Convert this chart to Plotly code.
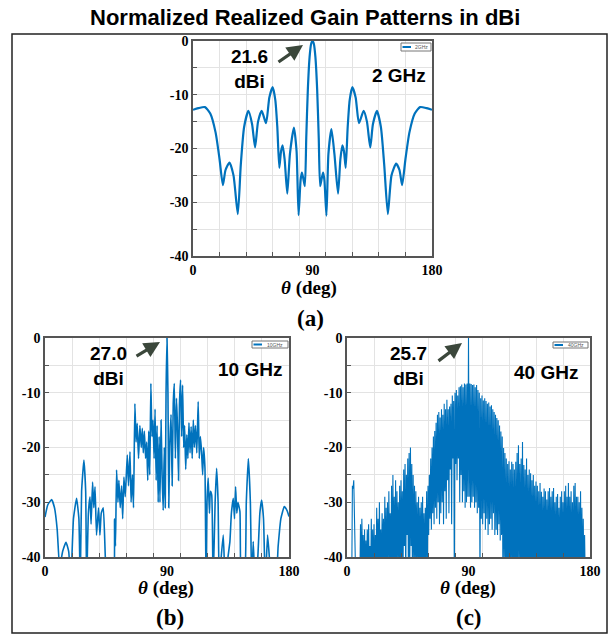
import plotly.graph_objects as go

BLUE = '#0072BD'

# ---------------- 2 GHz pattern (theta deg, normalized gain dB) ----------------
theta_2 = [0, 4, 9, 13, 17, 20, 22.5, 24.5, 27.5, 30.5, 33.75, 36, 38.5, 41.75, 44.5,
           46.75, 49, 51.75, 55, 57.5, 60, 62, 63.5, 65, 66.3, 67.5, 69, 71, 73, 76,
           78, 79.5, 81, 82, 83, 84.25, 85.3, 86.5, 87.8, 89, 90, 91, 92.2, 93.5, 94.7,
           95.75, 97, 98, 99, 100.5, 102, 104.25, 106.5, 109.25, 111, 112.5, 113.7, 115,
           116.5, 118, 120, 122.5, 125, 128.5, 131, 133.5, 135.5, 138.5, 141.5, 144,
           146.75, 149.5, 153, 155.5, 157.5, 160, 163, 167, 171, 176, 180]
gain_2 = [-12.8, -12.5, -12.3, -13.5, -17, -22, -26.8, -24, -22.6, -25, -32.2, -23, -16, -13.0, -15.5,
          -19.8, -15, -13.0, -15.3, -10.5, -8.6, -11, -16, -23.6, -20.5, -19.4, -22, -28.4, -21, -16.1,
          -20.5, -32.4, -26, -24.5, -25.5, -27, -18, -9, -3, -0.5, 0, -0.5, -3, -9, -18,
          -27, -25.5, -24.5, -26, -32.5, -21, -16.4, -21, -28.4, -22, -19.4, -20.5, -23.6,
          -16, -11, -8.6, -10.5, -15.3, -13, -15, -19.8, -15.5, -13, -16, -23,
          -32.2, -25, -22.8, -24, -26.8, -22, -17, -13.5, -12.3, -12.5, -12.8]

# ---------------- 10 GHz pattern ----------------
theta_10 = [0, 2, 4.9, 7, 9, 10.8, 13, 15.5, 17.5, 19, 21, 23.3, 25, 26, 27, 28.7, 30, 30.7,
            32, 33.2, 34, 35.1, 36, 36.9, 38, 39.5, 40.5, 41.5, 43, 44.5, 46, 48, 50.5, 51.3,
            52, 52.8, 53.8, 54.5, 55.5, 56.5, 57.3, 58.2, 59.2, 60.7, 61.6, 62.7, 63.5, 64.5,
            65.3, 66.3, 67.2, 68, 69, 70, 71, 71.8, 72.5, 73.3, 74.2, 75, 75.8, 76.5, 77.3,
            78.1, 78.9, 79.7, 80.5, 81.2, 82, 82.7, 83.5, 84.2, 84.8, 85.6, 86.4, 87.2, 88,
            88.7, 89.3, 90, 90.7, 91.3, 92, 93, 93.8, 94.6, 95.4, 96.2, 97, 97.7, 98.5, 99.2,
            100, 100.8, 101.5, 102.3, 103, 103.8, 104.6, 105.4, 106.2, 107, 107.8, 108.6,
            109.4, 110.2, 111, 112, 113, 113.8, 114.6, 115.5, 116.3, 117, 118, 118.8, 119.5,
            120.4, 121.3, 122, 123, 124, 125.5, 126.6, 127.7, 128.5, 130, 131.5, 133, 135,
            136.4, 137.5, 138.9, 139.8, 140.6, 141.5, 142.3, 143.8, 145, 147, 148.5, 150,
            151.5, 152.5, 153.6, 155, 157, 158.5, 159.8, 161.2, 162.5, 164.2, 165.5, 166.6,
            170, 172, 174, 176.5, 178.5, 180]
gain_10 = [-32.7, -30.5, -29.5, -31, -35, -42, -39, -37.3, -39, -45, -33, -29.3, -33, -45, -28, -22.3, -28, -45,
           -32, -29, -34, -26.3, -31, -27.2, -36, -31, -36, -32, -31, -40, -45, -45, -45, -33,
           -38, -24.1, -30, -26, -31, -27, -33, -25.4, -29, -21.4, -27, -20.8, -30, -25,
           -31, -12, -19, -15.6, -22, -16, -20, -16.5, -21, -17, -22, -19, -26, -17, -25,
           -8.3, -18, -15, -22, -13, -26, -16, -30, -18, -30, -15, -25, -31.5, -20,
           -31, -10, 0, -10, -31, -20, -14, -27, -12, -8.3, -22, -11, -16, -26, -12.2,
           -7.7, -18, -8.6, -20, -16, -24, -17.7, -22, -15.5, -21, -16.2, -22,
           -15, -20, -16, -21, -11.6, -22, -18, -20.8, -25, -20, -23.8, -45, -30,
           -25.6, -32, -28, -28.7, -45, -30, -23.8, -30, -45, -40, -36, -45, -40,
           -37.2, -32, -29.3, -33, -27.2, -32, -30, -31.7, -45, -45, -30, -22,
           -30, -45, -37.2, -45, -40, -32, -29.6, -33, -45, -36, -40, -45,
           -45, -38, -33, -30.8, -31.5, -32.6]

# ---------------- 40 GHz pattern: lobe peaks at whole degrees 0..180 ----------------
peaks_40 = [
    -45, -45, -45, -45, -27, -26, -45, -45, -45, -45,
    -34, -33, -36, -35, -37, -35, -34, -38, -33, -35,
    -34, -36, -31, -33, -30, -35, -32, -33, -29, -31,
    -30, -28, -32, -27, -25, -29, -26, -28, -30, -27,
    -26, -28, -24, -23, -25, -22, -21, -20, -23, -25,
    -27, -28, -30, -29, -31, -30, -29, -32, -31, -28,
    -27, -25, -22, -20, -18, -17, -15.5, -14, -13.5, -14.5,
    -13, -14, -12, -13, -11.3, -13, -12.5, -12, -10.5, -11.5,
    -10, -9.5, -10.5, -9, -8.8, -8.5, -9, -8.3, -8.5, -8.3,
    0,
    -8.3, -8.4, -8.6, -8.5, -9, -8.6, -9.5, -10, -11, -10.5,
    -11.4, -11, -11.5, -12, -11.8, -12.5, -12.3, -13, -13.5, -14,
    -14.6, -15, -16, -17.1, -18, -20.1, -21, -22, -23, -22.5,
    -24, -22.6, -23, -24, -22.6, -21, -19.6, -23, -22, -19,
    -23.2, -24, -22, -25, -24, -24.7, -26, -25, -27, -26.2,
    -27, -28, -26.5, -28.1, -29, -27.5, -28, -29.5, -28, -27.4,
    -29, -28, -27.4, -30, -29, -28.5, -31, -29, -28, -30,
    -28, -27, -29, -26.5, -29, -28, -30, -27, -26.5, -29,
    -29, -30, -28, -31, -33, -36, -40, -45, -45, -45]
# nulls between lobes, at 0.5, 1.5, ..., 179.5 deg
nulls_40 = [
    -45, -45, -45, -45, -27.5, -45, -45, -45, -45, -45,
    -45, -41, -45, -45, -45, -42, -45, -45, -45, -45,
    -45, -45, -42, -45, -45, -45, -41, -45, -45, -45,
    -45, -40, -45, -45, -42, -45, -45, -40, -45, -45,
    -40, -45, -38, -45, -36, -45, -42, -38, -45, -40,
    -45, -40, -45, -45, -42, -45, -45, -45, -40, -45,
    -36, -33, -35, -32, -34, -31, -33, -30, -34, -32,
    -30, -34, -28, -33, -26, -32, -24, -34, -22, -45,
    -23, -26, -22, -30, -25, -30, -28, -31, -30, -29,
    -29, -31, -30, -29, -31, -30, -32, -31, -45, -33,
    -34, -32, -35, -33, -36, -34, -33, -35, -32, -36,
    -35, -36, -34, -37, -36, -45, -40, -45, -45, -45,
    -45, -45, -42, -45, -45, -45, -45, -41, -45, -45,
    -45, -45, -45, -45, -45, -42, -45, -45, -45, -45,
    -45, -45, -45, -45, -45, -45, -45, -45, -45, -45,
    -45, -45, -45, -45, -45, -45, -45, -45, -45, -45,
    -45, -45, -45, -45, -45, -45, -45, -45, -45, -45,
    -45, -45, -45, -45, -45, -45, -45, -45, -45, -45]

theta_40, gain_40 = [], []
for k in range(180):
    theta_40 += [k, k + 0.5]
    gain_40 += [peaks_40[k], nulls_40[k]]
theta_40.append(180)
gain_40.append(peaks_40[180])

legend_names = ['2GHz', '10GHz', '40GHz']
x_ticks = [0, 90, 180]
x_grid = [20, 40, 60, 80, 100, 120, 140, 160]
y_ticks = [0, -10, -20, -30, -40]
y_ticktext = ['0', '-10', '-20', '-30', '-40']
y_grid = [-5, -15, -25, -35]

W, H = 611, 635
def px(x):
    return x / W
def py(y):
    return 1 - y / H

fig = go.Figure()
fig.add_trace(go.Scatter(x=theta_2, y=gain_2, mode='lines', name=legend_names[0],
                         line=dict(color=BLUE, width=2.2, shape='spline', smoothing=0.6),
                         xaxis='x', yaxis='y', showlegend=False))
fig.add_trace(go.Scatter(x=theta_10, y=gain_10, mode='lines', name=legend_names[1],
                         line=dict(color=BLUE, width=1.6, shape='spline', smoothing=0.4),
                         xaxis='x2', yaxis='y2', showlegend=False))
fig.add_trace(go.Scatter(x=theta_40, y=gain_40, mode='lines', name=legend_names[2],
                         line=dict(color=BLUE, width=1.1),
                         xaxis='x3', yaxis='y3', showlegend=False))

tickfont = dict(family='Liberation Serif', size=14, color='black', weight='bold')
GRID = '#e3e3e3'
LINE = '#555555'

def xax(dom, anchor):
    return dict(domain=dom, anchor=anchor, range=[0, 180], tickvals=x_ticks,
                showgrid=False, zeroline=False, showline=True, mirror=True,
                linecolor=LINE, linewidth=1.5, ticks='', tickfont=tickfont,
                automargin=False,
                minor=dict(tickvals=x_grid, showgrid=True, gridcolor=GRID, gridwidth=1,
                           ticks='inside', ticklen=4, tickcolor=LINE),
                fixedrange=True)

def yax(dom, anchor):
    return dict(domain=dom, anchor=anchor, range=[-40, 0], tickvals=y_ticks,
                ticktext=y_ticktext,
                showgrid=True, gridcolor=GRID, gridwidth=1, zeroline=False,
                showline=True, mirror=True, linecolor=LINE, linewidth=1.5,
                ticks='inside', ticklen=4, tickcolor=LINE, tickfont=tickfont,
                automargin=False,
                minor=dict(tickvals=y_grid, showgrid=True, gridcolor=GRID, gridwidth=1,
                           ticks='inside', ticklen=4, tickcolor=LINE),
                fixedrange=True)

top_x = [px(193), px(432)]
top_y = [py(256), py(41)]
bl_x = [px(45), px(289)]
br_x = [px(347), px(590)]
bot_y = [py(557), py(338)]

fig.update_layout(
    width=W, height=H, margin=dict(l=0, r=0, t=0, b=0, pad=0, autoexpand=False),
    paper_bgcolor='white', plot_bgcolor='white', showlegend=False,
    xaxis=xax(top_x, 'y'), yaxis=yax(top_y, 'x'),
    xaxis2=xax(bl_x, 'y2'), yaxis2=yax(bot_y, 'x2'),
    xaxis3=xax(br_x, 'y3'), yaxis3=yax(bot_y, 'x3'),
)

def txt(cx, cy, text, font):
    return dict(x=px(cx), y=py(cy), xref='paper', yref='paper', showarrow=False,
                xanchor='center', yanchor='middle', text=text, font=font, borderpad=0)

ann = []
ann.append(txt(305, 17, '<b>Normalized Realized Gain Patterns in dBi</b>',
               dict(family='Liberation Sans', size=22, color='black')))
serif19 = dict(family='Liberation Serif', size=19, color='black')
for (cx, cy) in [(309, 288), (166, 588), (468, 588)]:
    ann.append(txt(cx, cy, '<b><i>θ</i> (deg)</b>', serif19))
serif23 = dict(family='Liberation Serif', size=23, color='black')
for (cx, cy, t) in [(310, 319, '(a)'), (170, 617, '(b)'), (469, 617, '(c)')]:
    ann.append(txt(cx, cy, '<b>%s</b>' % t, serif23))
sans19 = dict(family='Liberation Sans', size=19, color='black')
for (cx, cy, t) in [(249, 69, '21.6<br>dBi'), (108, 366, '27.0<br>dBi'), (408, 366, '25.7<br>dBi')]:
    ann.append(txt(cx, cy, '<b>%s</b>' % t, sans19))
for (cx, cy, t) in [(399, 75, '2 GHz'), (250, 369, '10 GHz'), (546, 372, '40 GHz')]:
    ann.append(txt(cx, cy, '<b>%s</b>' % t, sans19))
for (hx, hy, dx, dy) in [(303, 45, -26, 18), (160, 342, -25, 15), (462, 343, -25, 19)]:
    ann.append(dict(x=px(hx), y=py(hy), xref='paper', yref='paper', text='',
                    showarrow=True, ax=dx, ay=dy, axref='pixel', ayref='pixel',
                    arrowhead=2, arrowsize=1, arrowwidth=3.2, arrowcolor='#3b473b'))

# small legend boxes (one per panel)
shapes = []
for (x0, x1, y0, y1), name in zip([(401, 431, 43, 51), (252, 288, 341, 348), (553, 588, 342, 348)],
                                  legend_names):
    shapes.append(dict(type='rect', xref='paper', yref='paper', x0=px(x0), x1=px(x1),
                       y0=py(y1), y1=py(y0), line=dict(color='#777', width=1),
                       fillcolor='white', layer='above'))
    ym = (y0 + y1) / 2
    shapes.append(dict(type='line', xref='paper', yref='paper', x0=px(x0 + 1.5), x1=px(x0 + 10),
                       y0=py(ym), y1=py(ym), line=dict(color=BLUE, width=2), layer='above'))
    ann.append(txt((x0 + 10 + x1) / 2, ym, name,
                   dict(family='Liberation Sans', size=5, color='#555')))

shapes.append(dict(type='rect', xref='paper', yref='paper',
                   x0=px(12), x1=px(607), y0=py(633), y1=py(34),
                   line=dict(color='#222222', width=1.5), fillcolor='rgba(0,0,0,0)'))
fig.update_layout(annotations=ann, shapes=shapes)

fig.write_html('out.html', config={'displayModeBar': False},
               post_script="document.body.style.margin='0';document.body.style.overflow='hidden';")
